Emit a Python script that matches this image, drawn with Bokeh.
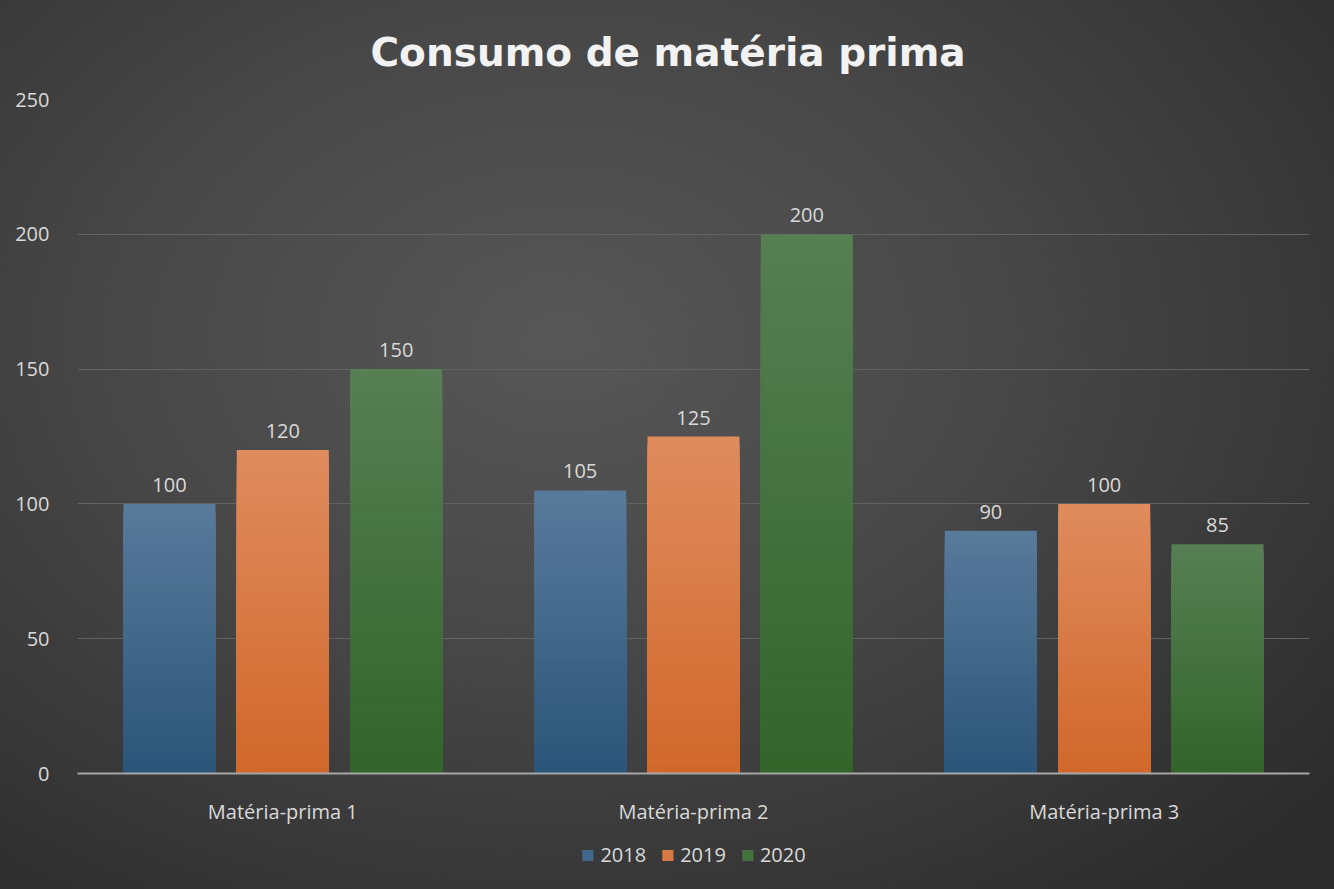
from bokeh.plotting import figure
from bokeh.layouts import column
from bokeh.models import ColumnDataSource, FactorRange, Legend, LegendItem, LabelSet, SingleIntervalTicker, Range1d
from bokeh.transform import dodge
from bokeh.core.properties import value
from bokeh.embed import file_html
from bokeh.resources import INLINE

categories = ["Matéria-prima 1", "Matéria-prima 2", "Matéria-prima 3"]
years = ["2018", "2019", "2020"]
v2018 = [100, 105, 90]
v2019 = [120, 125, 100]
v2020 = [150, 200, 85]

series = [v2018, v2019, v2020]
top_colors = ["#587a9b", "#df8b5e", "#567f53"]
bottom_colors = ["#2a5478", "#d1672a", "#32642a"]
offsets = [-0.276, 0.0, 0.276]
bar_w = 0.224

def hex2rgb(h):
    h = h.lstrip("#")
    return tuple(int(h[i:i + 2], 16) for i in (0, 2, 4))

def lerp(c1, c2, t):
    a, b = hex2rgb(c1), hex2rgb(c2)
    return "#%02x%02x%02x" % tuple(int(round(a[i] + (b[i] - a[i]) * t)) for i in range(3))

FONT = "Open Sans"
TXT = "#d9d9d9"
FS = "20px"

p = figure(x_range=FactorRange(*categories), y_range=(0, 250),
           width=1334, height=835, output_backend="svg", toolbar_location=None,
           min_border_left=77, min_border_right=25, min_border_top=99, min_border_bottom=62)

p.background_fill_alpha = 0
p.border_fill_alpha = 0
p.outline_line_color = None

p.title.text = "Consumo de matéria prima"
p.title.align = "left"
p.title.text_font = "DejaVu Sans"
p.title.text_font_style = "bold"
p.title.text_font_size = "39px"
p.title.text_color = "#f2f2f2"
p.title.standoff = 50
p.title.offset = 293

N = 40
for si, (vals, yr) in enumerate(zip(series, years)):
    for j in range(N, 0, -1):
        t = j / N
        src = ColumnDataSource(dict(cat=categories, top=[v * t for v in vals]))
        p.vbar(x=dodge("cat", offsets[si], range=p.x_range), top="top", bottom=0,
               width=bar_w, source=src, fill_color=lerp(bottom_colors[si], top_colors[si], t),
               line_color=None)
    lsrc = ColumnDataSource(dict(cat=categories, top=vals, txt=[str(v) for v in vals]))
    labels = LabelSet(x=dodge("cat", offsets[si], range=p.x_range), y="top", text="txt",
                      source=lsrc, text_align="center", text_baseline="bottom", y_offset=12,
                      text_font=value(FONT), text_font_size=value(FS), text_color=TXT)
    p.add_layout(labels)

p.yaxis.ticker = SingleIntervalTicker(interval=50)
p.yaxis.axis_line_color = None
p.yaxis.major_tick_line_color = None
p.yaxis.minor_tick_line_color = None
p.yaxis.major_label_text_font = FONT
p.yaxis.major_label_text_font_size = FS
p.yaxis.major_label_text_color = TXT
p.yaxis.major_label_standoff = 22

p.xaxis.axis_line_color = "#a6a6a6"
p.xaxis.axis_line_width = 2
p.xaxis.major_tick_line_color = None
p.xaxis.minor_tick_line_color = None
p.xaxis.major_label_text_font = FONT
p.xaxis.major_label_text_font_size = FS
p.xaxis.major_label_text_color = TXT
p.xaxis.major_label_standoff = 18

p.xgrid.grid_line_color = None
p.ygrid.grid_line_color = "#626262"
p.ygrid.grid_line_width = 1
p.x_range.range_padding = 0
p.x_range.group_padding = 0

# legend strip (proxy renderers lie outside the strip's visible range)
lg = figure(width=1334, height=54, output_backend="svg", toolbar_location=None,
            x_range=Range1d(0, 1), y_range=Range1d(0, 1),
            min_border_left=0, min_border_right=0, min_border_top=0, min_border_bottom=0)
lg.axis.visible = False
lg.grid.visible = False
lg.background_fill_alpha = 0
lg.border_fill_alpha = 0
lg.outline_line_color = None
items = []
for si, yr in enumerate(years):
    r = lg.vbar(x=[-5], top=[-5], bottom=[-6], width=0.1,
                fill_color=lerp(bottom_colors[si], top_colors[si], 0.5), line_color=None)
    items.append(LegendItem(label=yr, renderers=[r]))
legend = Legend(items=items, orientation="horizontal", location="top_center",
                label_text_font=FONT, label_text_font_size=FS, label_text_color=TXT,
                glyph_width=14, glyph_height=14, spacing=14, label_standoff=6,
                background_fill_alpha=0, border_line_color=None, margin=6, padding=4)
lg.add_layout(legend, "center")

layout = column(p, lg, spacing=0)
layout.styles = {"background": "radial-gradient(ellipse 75% 80% at 42% 38%, #575757 0%, #474747 45%, #363636 80%, #2c2c2c 100%)"}

open("out.html", "w").write(file_html(layout, INLINE))
